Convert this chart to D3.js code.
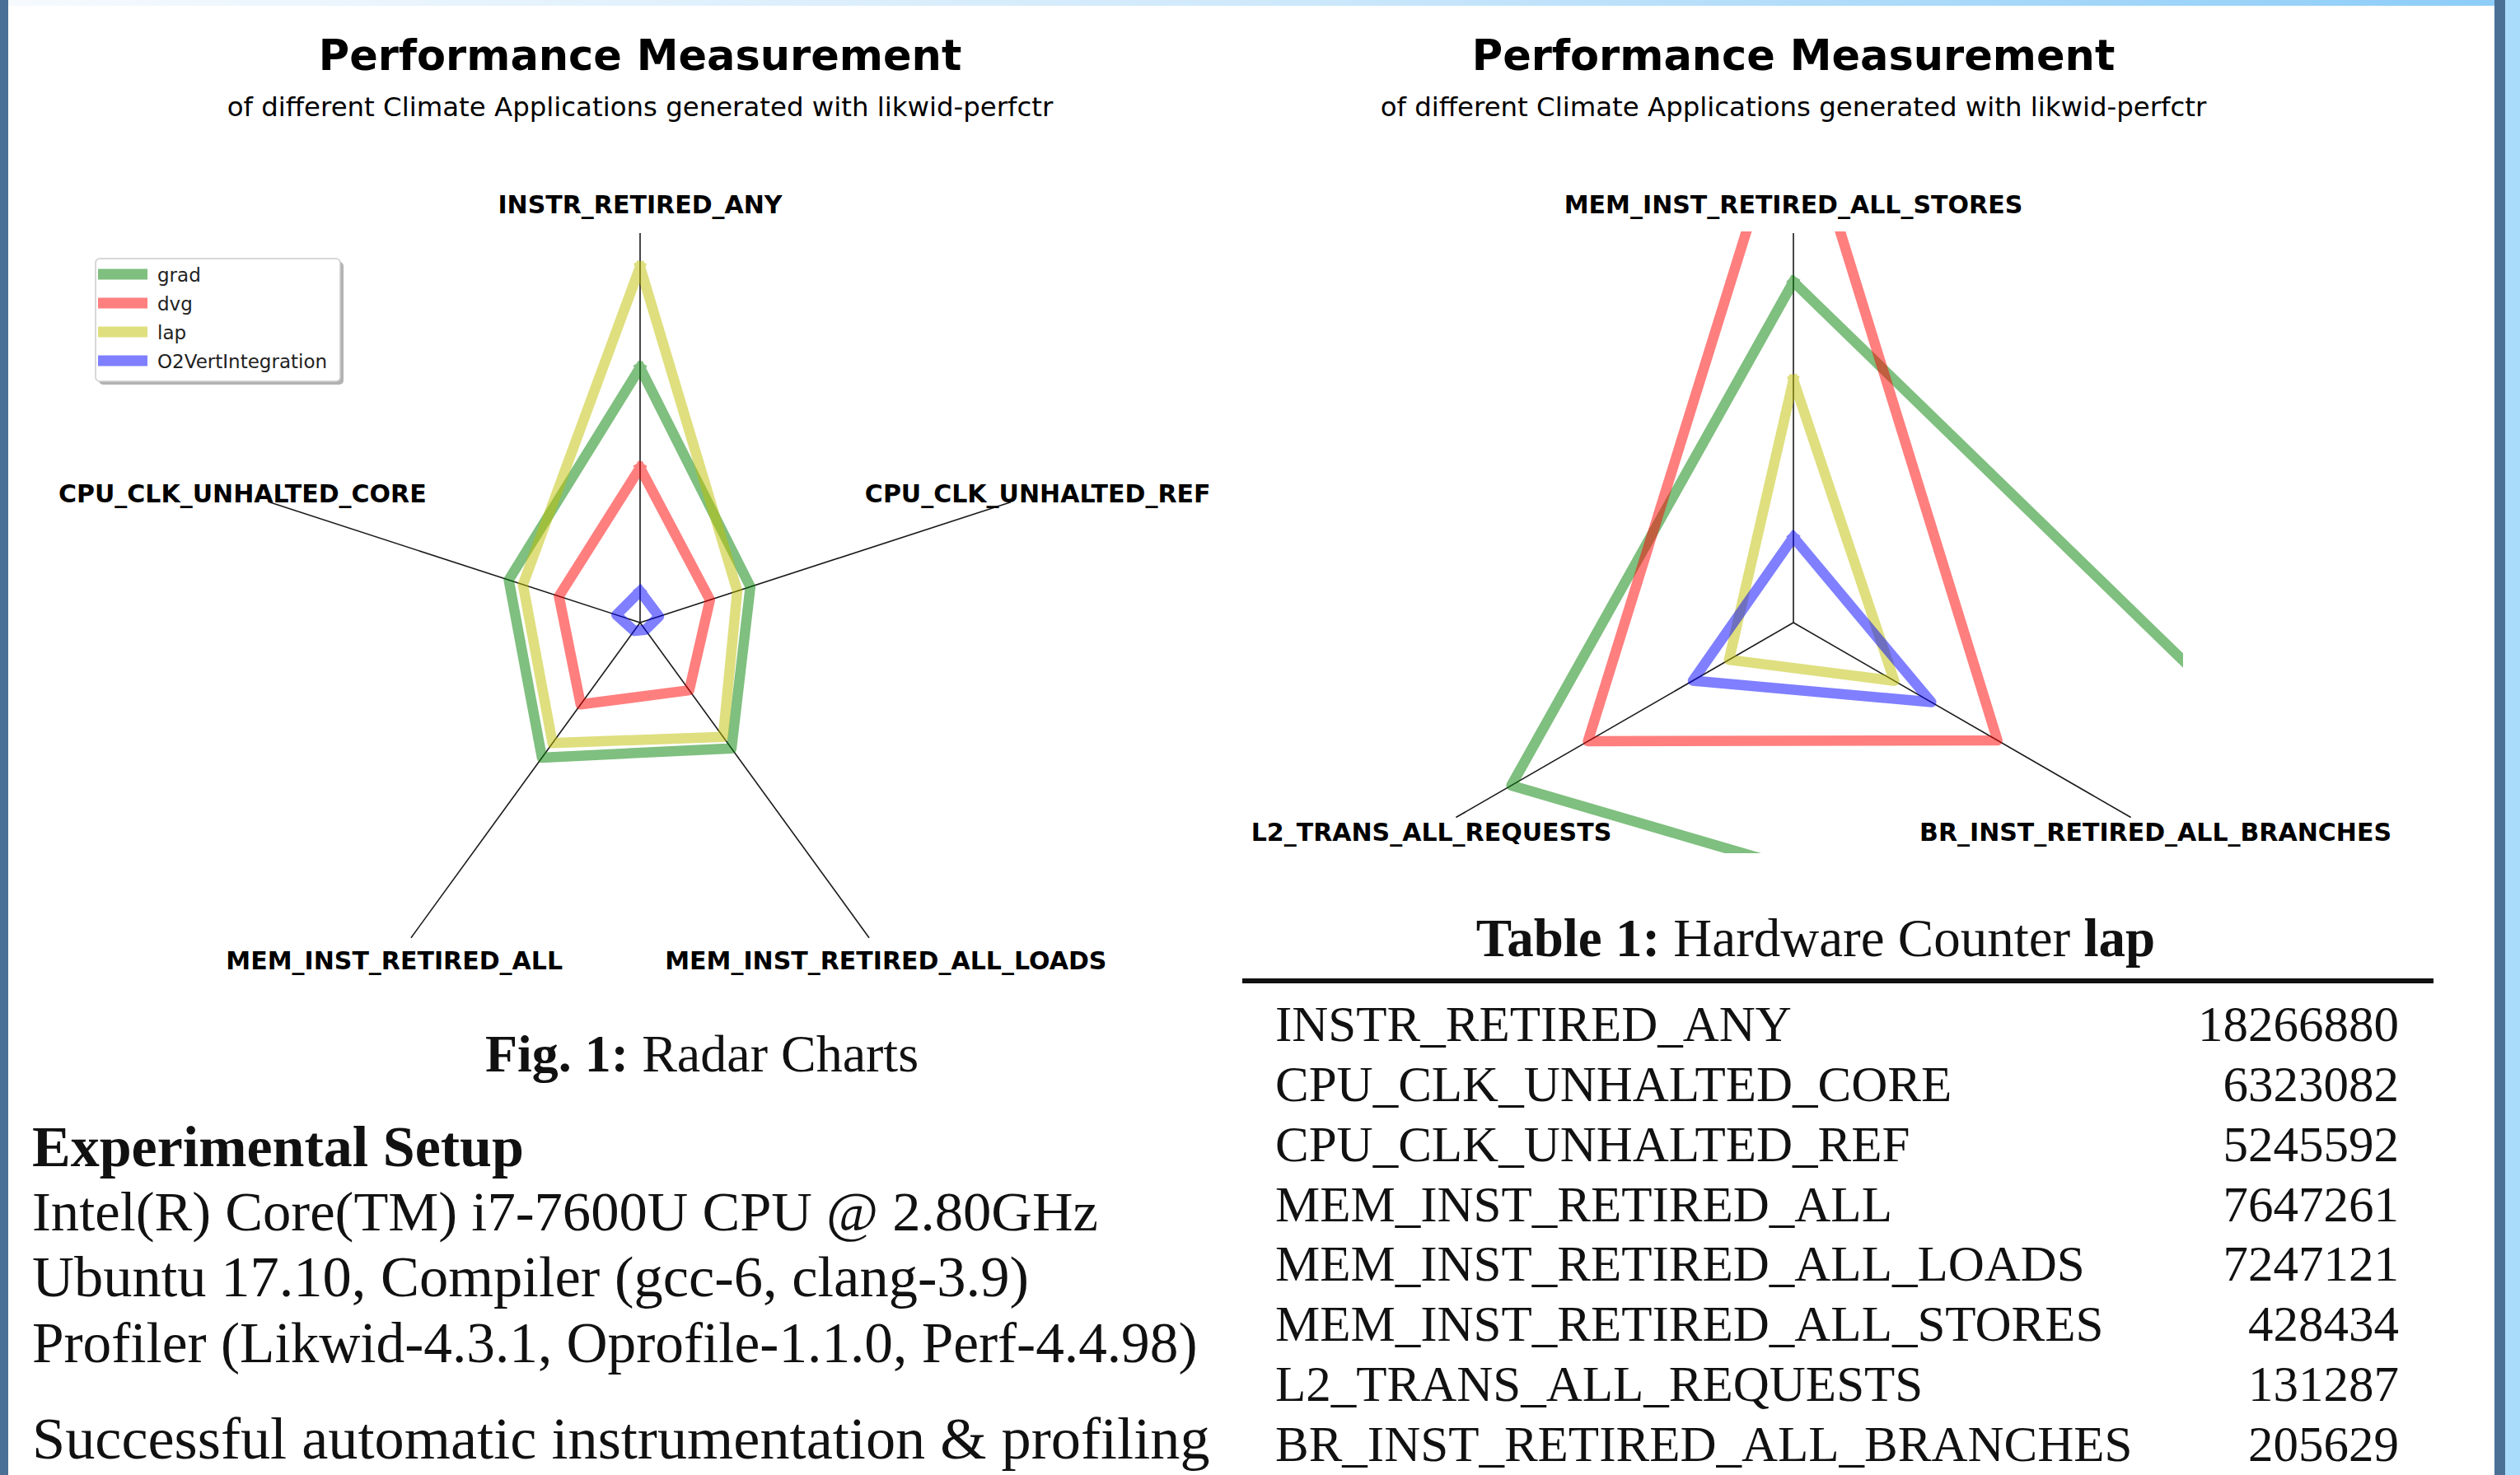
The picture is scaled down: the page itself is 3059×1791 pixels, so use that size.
<!DOCTYPE html>
<html><head><meta charset="utf-8">
<script src="https://cdn.jsdelivr.net/npm/d3@7"></script>
<style>html,body{margin:0;padding:0;background:#fff;overflow:hidden}</style>
</head><body>
<svg id="c" width="3059" height="1791"></svg>
<script>
// ---------- data ----------
const seriesNames = ["grad", "dvg", "lap", "O2VertIntegration"];
const seriesColors = ["#008000", "#ff0000", "#bfbf00", "#0000ff"];

// left radar: axes clockwise from top
const axesLeft = ["INSTR_RETIRED_ANY", "CPU_CLK_UNHALTED_REF", "MEM_INST_RETIRED_ALL_LOADS", "MEM_INST_RETIRED_ALL", "CPU_CLK_UNHALTED_CORE"];
const gradLeft = [13090000, 5950000, 7980000, 8570000, 7090000];
const dvgLeft  = [7950000, 3770000, 4290000, 5190000, 4380000];
const lapLeft  = [18266880, 5245592, 7247121, 7647261, 6323082];
const o2Left   = [1610000, 1020000, 460000, 520000, 1280000];
const maxLeft = 20000000;

// right radar: axes clockwise from top
const axesRight = ["MEM_INST_RETIRED_ALL_STORES", "BR_INST_RETIRED_ALL_BRANCHES", "L2_TRANS_ALL_REQUESTS"];
const gradRight = [602000, 1760000, 575000];
const dvgRight  = [958000, 416000, 419000];
const lapRight  = [428434, 205629, 131287];
const o2Right   = [151000, 281000, 205000];
const maxRight = 688000;

// table
const tableCounters = ["INSTR_RETIRED_ANY", "CPU_CLK_UNHALTED_CORE", "CPU_CLK_UNHALTED_REF", "MEM_INST_RETIRED_ALL", "MEM_INST_RETIRED_ALL_LOADS", "MEM_INST_RETIRED_ALL_STORES", "L2_TRANS_ALL_REQUESTS", "BR_INST_RETIRED_ALL_BRANCHES"];
const tableValues = [18266880, 6323082, 5245592, 7647261, 7247121, 428434, 131287, 205629];

const setupLines = ["Intel(R) Core(TM) i7-7600U CPU @ 2.80GHz", "Ubuntu 17.10, Compiler (gcc-6, clang-3.9)", "Profiler (Likwid-4.3.1, Oprofile-1.1.0, Perf-4.4.98)"];

// ---------- drawing ----------
const svg = d3.select("#c");
const W = 3059, H = 1791;
const SANS = "'DejaVu Sans', sans-serif";
const SERIF = "'Liberation Serif', serif";

svg.append("rect").attr("width", W).attr("height", H).attr("fill", "#fff");
const defs = svg.append("defs");
const g1 = defs.append("linearGradient").attr("id", "topg").attr("x1", 0).attr("x2", 1).attr("y1", 0).attr("y2", 0);
g1.append("stop").attr("offset", 0).attr("stop-color", "#f6fafe");
g1.append("stop").attr("offset", 0.5).attr("stop-color", "#cfe9fb");
g1.append("stop").attr("offset", 1).attr("stop-color", "#8dcdf8");
svg.append("rect").attr("x", 0).attr("y", 0).attr("width", 3028).attr("height", 7).attr("fill", "url(#topg)");
svg.append("rect").attr("x", 0).attr("y", 0).attr("width", 10).attr("height", H).attr("fill", "#4a7096");
svg.append("rect").attr("x", 3028).attr("y", 0).attr("width", 13).attr("height", H).attr("fill", "#4a7096");
svg.append("rect").attr("x", 3041).attr("y", 0).attr("width", 18).attr("height", H).attr("fill", "#a9dcfb");

const R = 473;

function radar(cx, cy, axes, seriesVals, maxV, id, legend) {
  const g = svg.append("g").attr("transform", `translate(${cx},${cy})`);
  // titles
  g.append("text").attr("x", 0).attr("y", 85 - cy).attr("text-anchor", "middle")
    .attr("font-family", SANS).attr("font-weight", "bold").attr("font-size", 51).text("Performance Measurement");
  g.append("text").attr("x", 0).attr("y", 141 - cy).attr("text-anchor", "middle")
    .attr("font-family", SANS).attr("font-size", 32.4).text("of different Climate Applications generated with likwid-perfctr");

  const n = axes.length;
  const ang = d3.scaleLinear().domain([0, n]).range([0, 2 * Math.PI]);
  const r = d3.scaleLinear().domain([0, maxV]).range([0, R]);

  // axes
  axes.forEach((name, i) => {
    const a = ang(i);
    g.append("line").attr("x1", 0).attr("y1", 0)
      .attr("x2", R * Math.sin(a)).attr("y2", -R * Math.cos(a))
      .attr("stroke", "#1a1a1a").attr("stroke-width", 1.6);
    const lr = R * 1.073;
    g.append("text").attr("x", lr * Math.sin(a)).attr("y", -lr * Math.cos(a))
      .attr("dy", "0.36em").attr("text-anchor", "middle")
      .attr("font-family", SANS).attr("font-weight", "bold").attr("font-size", 30).text(name);
  });

  defs.append("clipPath").attr("id", id).append("rect")
    .attr("x", -R).attr("y", -475).attr("width", 2 * R).attr("height", 475 + 280);
  const pg = g.append("g").attr("clip-path", `url(#${id})`);
  const line = d3.lineRadial().angle((d, i) => ang(i)).radius(d => r(d));
  seriesVals.forEach((vals, k) => {
    const closed = vals.concat([vals[0]]);
    pg.append("path").attr("d", line(closed))
      .attr("fill", "none").attr("stroke", seriesColors[k]).attr("stroke-opacity", 0.5)
      .attr("stroke-width", 12.5).attr("stroke-linejoin", "round").attr("stroke-linecap", "square");
  });

  if (legend) {
    const lg = svg.append("g");
    lg.append("rect").attr("x", 120).attr("y", 318).attr("width", 297).attr("height", 149).attr("rx", 5)
      .attr("fill", "#000").attr("fill-opacity", 0.3);
    lg.append("rect").attr("x", 116).attr("y", 314).attr("width", 297).attr("height", 149).attr("rx", 5)
      .attr("fill", "#fff").attr("stroke", "#cccccc").attr("stroke-width", 1.5);
    const ly = d3.scalePoint().domain(seriesNames).range([333, 438]);
    seriesNames.forEach((s, k) => {
      lg.append("line").attr("x1", 119).attr("x2", 179).attr("y1", ly(s)).attr("y2", ly(s))
        .attr("stroke", seriesColors[k]).attr("stroke-opacity", 0.5).attr("stroke-width", 13);
      lg.append("text").attr("x", 191).attr("y", ly(s) + 9).attr("font-family", SANS)
        .attr("font-size", 23).attr("fill", "#222").text(s);
    });
  }
}

radar(777, 756, axesLeft, [gradLeft, dvgLeft, lapLeft, o2Left], maxLeft, "clipL", true);
radar(2177, 756, axesRight, [gradRight, dvgRight, lapRight, o2Right], maxRight, "clipR", false);

// ---------- lower texts ----------
const cap = svg.append("text").attr("x", 852).attr("y", 1301).attr("text-anchor", "middle")
  .attr("font-family", SERIF).attr("font-size", 64).attr("fill", "#111");
cap.append("tspan").attr("font-weight", "bold").text("Fig. 1:");
cap.append("tspan").text(" Radar Charts");

svg.append("text").attr("x", 39).attr("y", 1416).attr("font-family", SERIF).attr("font-weight", "bold")
  .attr("font-size", 70).attr("fill", "#111").text("Experimental Setup");
const lineY = d3.scaleLinear().domain([0, 2]).range([1494, 1654]);
const setupSizes = [68.6, 70.5, 69.3];
setupLines.forEach((t, i) => {
  svg.append("text").attr("x", 39).attr("y", lineY(i)).attr("font-family", SERIF)
    .attr("font-size", setupSizes[i]).attr("fill", "#111").text(t);
});
svg.append("text").attr("x", 39).attr("y", 1771).attr("font-family", SERIF)
  .attr("font-size", 72.3).attr("fill", "#111").text("Successful automatic instrumentation & profiling");

// table
const tt = svg.append("text").attr("x", 2204).attr("y", 1161).attr("text-anchor", "middle")
  .attr("font-family", SERIF).attr("font-size", 65).attr("fill", "#111");
tt.append("tspan").attr("font-weight", "bold").text("Table 1:");
tt.append("tspan").text(" Hardware Counter ");
tt.append("tspan").attr("font-weight", "bold").text("lap");
svg.append("line").attr("x1", 1508).attr("x2", 2954).attr("y1", 1191).attr("y2", 1191)
  .attr("stroke", "#111").attr("stroke-width", 6);
const rowY = d3.scaleLinear().domain([0, tableCounters.length - 1]).range([1264, 1774]);
tableCounters.forEach((c, i) => {
  svg.append("text").attr("x", 1548).attr("y", rowY(i)).attr("font-family", SERIF)
    .attr("font-size", 61).attr("fill", "#111").text(c);
  svg.append("text").attr("x", 2912).attr("y", rowY(i)).attr("text-anchor", "end").attr("font-family", SERIF)
    .attr("font-size", 61).attr("fill", "#111").text(String(tableValues[i]));
});
</script>
</body></html>
